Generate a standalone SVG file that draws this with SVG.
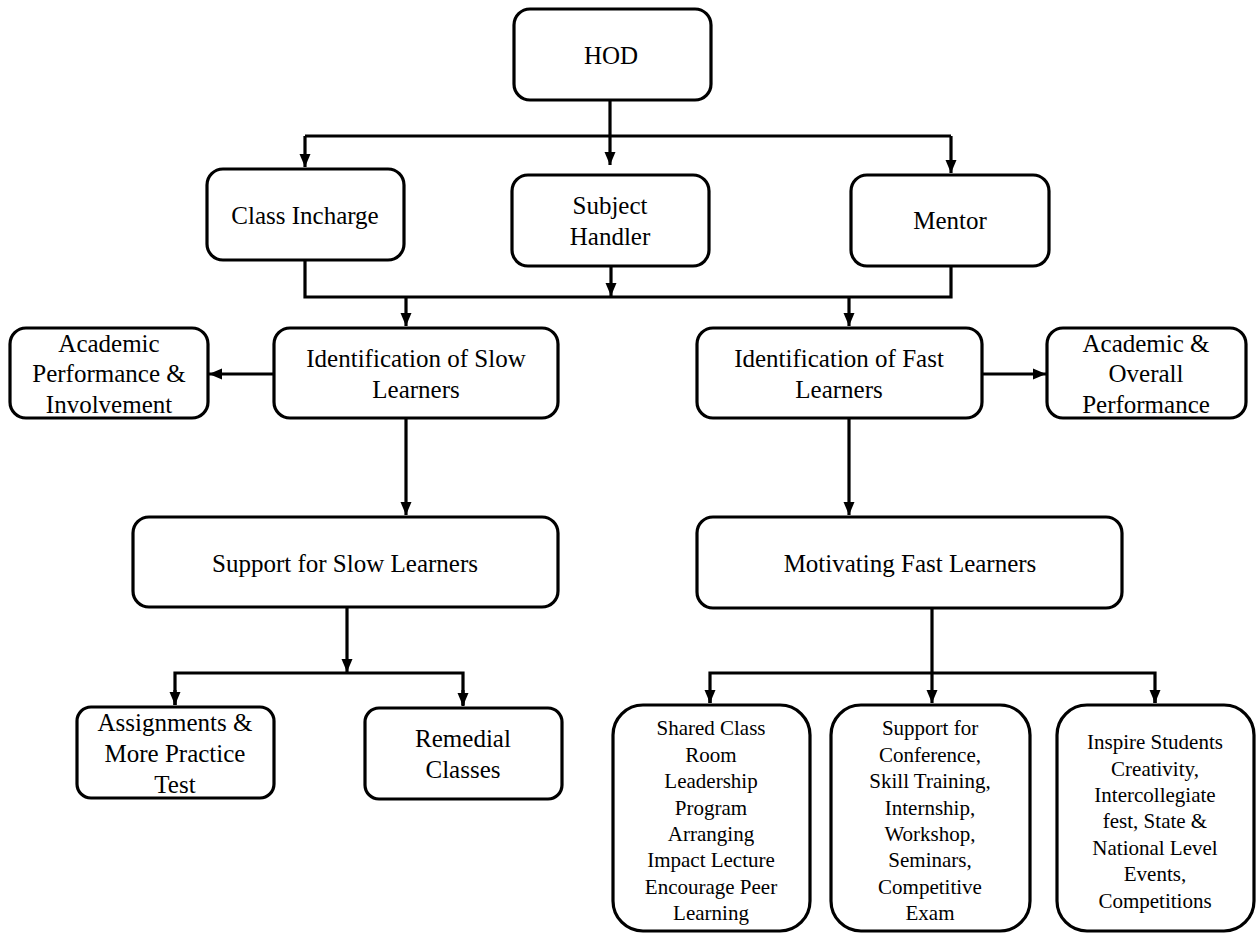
<svg xmlns="http://www.w3.org/2000/svg" width="1258" height="933" viewBox="0 0 1258 933">
<style>
.box{fill:#fff;stroke:#000;stroke-width:3.2}
.t{font-family:"Liberation Serif","Times New Roman",serif;font-size:25px;fill:#000;text-anchor:middle}
.s{font-family:"Liberation Serif","Times New Roman",serif;font-size:21px;fill:#000;text-anchor:middle}
.c{fill:none;stroke:#000;stroke-width:3.2}
</style>
<defs>
<marker id="ah" markerUnits="userSpaceOnUse" markerWidth="14" markerHeight="14" viewBox="0 0 14 14" refX="13" refY="7" orient="auto">
<path d="M0,1.5 L13,7 L0,12.5 Z" fill="#000"/>
</marker>
</defs>
<rect width="1258" height="933" fill="#fff"/>
<g id="connectors">
<path class="c" d="M610,100 V165" marker-end="url(#ah)"/>
<path class="c" d="M305,136 H951"/>
<path class="c" d="M305,136 V167" marker-end="url(#ah)"/>
<path class="c" d="M951,136 V173" marker-end="url(#ah)"/>
<path class="c" d="M305,260 V297 H951 V266"/>
<path class="c" d="M611,266 V296" marker-end="url(#ah)"/>
<path class="c" d="M406,297 V326" marker-end="url(#ah)"/>
<path class="c" d="M849,297 V326" marker-end="url(#ah)"/>
<path class="c" d="M274,374 H209" marker-end="url(#ah)"/>
<path class="c" d="M982,374 H1046" marker-end="url(#ah)"/>
<path class="c" d="M406,418 V515" marker-end="url(#ah)"/>
<path class="c" d="M849,418 V515" marker-end="url(#ah)"/>
<path class="c" d="M347,607 V672" marker-end="url(#ah)"/>
<path class="c" d="M175,705 V673 H463 V705"/>
<path class="c" d="M175,690 V705" marker-end="url(#ah)"/>
<path class="c" d="M463,690 V706" marker-end="url(#ah)"/>
<path class="c" d="M932,608 V703" marker-end="url(#ah)"/>
<path class="c" d="M710,703 V673 H1155 V703"/>
<path class="c" d="M710,690 V703" marker-end="url(#ah)"/>
<path class="c" d="M1155,690 V703" marker-end="url(#ah)"/>
</g>
<g id="hod"><rect class="box" x="514" y="9" width="197" height="91" rx="16"/><text class="t" x="611" y="64">HOD</text></g>
<g id="class-incharge"><rect class="box" x="207" y="169" width="197" height="91" rx="16"/><text class="t" x="305" y="224">Class Incharge</text></g>
<g id="subject-handler"><rect class="box" x="512" y="175" width="197" height="91" rx="16"/><text class="t" x="610" y="214">Subject</text><text class="t" x="610" y="245">Handler</text></g>
<g id="mentor"><rect class="box" x="851" y="175" width="198" height="91" rx="16"/><text class="t" x="950" y="229">Mentor</text></g>
<g id="academic-performance"><rect class="box" x="10" y="328" width="198" height="90" rx="16"/><text class="t" x="109" y="352">Academic</text><text class="t" x="109" y="382">Performance &amp;</text><text class="t" x="109" y="413">Involvement</text></g>
<g id="ident-slow"><rect class="box" x="274" y="328" width="284" height="90" rx="16"/><text class="t" x="416" y="367">Identification  of Slow</text><text class="t" x="416" y="398">Learners</text></g>
<g id="ident-fast"><rect class="box" x="697" y="328" width="285" height="90" rx="16"/><text class="t" x="839" y="367">Identification  of Fast</text><text class="t" x="839" y="398">Learners</text></g>
<g id="academic-overall"><rect class="box" x="1047" y="328" width="199" height="90" rx="16"/><text class="t" x="1146" y="352">Academic &amp;</text><text class="t" x="1146" y="382">Overall</text><text class="t" x="1146" y="413">Performance</text></g>
<g id="support-slow"><rect class="box" x="133" y="517" width="425" height="90" rx="16"/><text class="t" x="345" y="572">Support for Slow Learners</text></g>
<g id="motivating-fast"><rect class="box" x="697" y="517" width="425" height="91" rx="16"/><text class="t" x="910" y="572">Motivating  Fast Learners</text></g>
<g id="assignments"><rect class="box" x="77" y="707" width="197" height="91" rx="14"/><text class="t" x="175" y="731">Assignments &amp;</text><text class="t" x="175" y="762">More Practice</text><text class="t" x="175" y="793">Test</text></g>
<g id="remedial"><rect class="box" x="365" y="708" width="197" height="91" rx="14"/><text class="t" x="463" y="747">Remedial</text><text class="t" x="463" y="778">Classes</text></g>
<g id="shared-class"><rect class="box" x="613" y="705" width="197" height="226" rx="30"/>
<text class="s" x="711" y="735">Shared Class</text><text class="s" x="711" y="762">Room</text><text class="s" x="711" y="788">Leadership</text><text class="s" x="711" y="815">Program</text><text class="s" x="711" y="841">Arranging</text><text class="s" x="711" y="867">Impact  Lecture</text><text class="s" x="711" y="894">Encourage  Peer</text><text class="s" x="711" y="920">Learning</text></g>
<g id="support-conference"><rect class="box" x="831" y="705" width="199" height="226" rx="30"/>
<text class="s" x="930" y="735">Support for</text><text class="s" x="930" y="762">Conference,</text><text class="s" x="930" y="788">Skill  Training,</text><text class="s" x="930" y="815">Internship,</text><text class="s" x="930" y="841">Workshop,</text><text class="s" x="930" y="867">Seminars,</text><text class="s" x="930" y="894">Competitive</text><text class="s" x="930" y="920">Exam</text></g>
<g id="inspire"><rect class="box" x="1057" y="705" width="197" height="226" rx="30"/>
<text class="s" x="1155" y="749">Inspire  Students</text><text class="s" x="1155" y="776">Creativity,</text><text class="s" x="1155" y="802">Intercollegiate</text><text class="s" x="1155" y="828">fest, State &amp;</text><text class="s" x="1155" y="855">National  Level</text><text class="s" x="1155" y="881">Events,</text><text class="s" x="1155" y="908">Competitions</text></g>
</svg>
